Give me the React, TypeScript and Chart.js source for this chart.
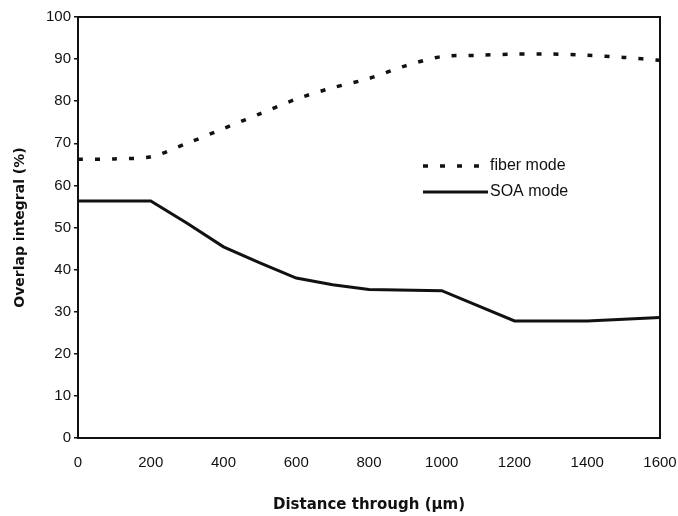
import React, { useEffect, useRef } from "react";
import { Chart, registerables } from "chart.js";

Chart.register(...registerables);

const distances = [0, 100, 200, 300, 400, 500, 600, 700, 800, 900, 1000, 1100, 1200, 1300, 1400, 1500, 1600];
const fiberMode = [66.2, 66.3, 66.8, 70, 73.5, 77, 80.5, 83.2, 85.4, 88.4, 90.6, 90.9, 91.2, 91.2, 90.9, 90.4, 89.7];
const soaDistances = [0, 200, 300, 400, 500, 600, 700, 800, 1000, 1200, 1400, 1600];
const soaMode = [56.3, 56.3, 51, 45.4, 41.6, 38, 36.4, 35.3, 35.0, 27.8, 27.8, 28.6];
const seriesLabels = ["fiber mode", "SOA mode"];
const xTitle = "Distance through (\u00b5m)";
const yTitle = "Overlap integral (%)";

const frameAndLegend = {
  id: "frameAndLegend",
  afterDraw(chart: any) {
    const { ctx, chartArea } = chart;
    ctx.save();
    ctx.strokeStyle = "#111";
    ctx.lineWidth = 2;
    ctx.strokeRect(chartArea.left, chartArea.top, chartArea.right - chartArea.left, chartArea.bottom - chartArea.top);
    const ds = chart.data.datasets;
    const x0 = 423, x1 = 488;
    const rows = [166, 192];
    ds.forEach((d: any, i: number) => {
      const y = rows[i];
      ctx.beginPath();
      ctx.lineWidth = d.borderWidth;
      ctx.setLineDash(d.borderDash || []);
      ctx.moveTo(x0, y);
      ctx.lineTo(x1, y);
      ctx.stroke();
      ctx.setLineDash([]);
      ctx.fillStyle = "#111";
      ctx.font = "16px 'Liberation Sans', Arial, sans-serif";
      ctx.textBaseline = "middle";
      ctx.textAlign = "left";
      ctx.fillText(d.label, x1 + 2, y);
    });
    ctx.restore();
  },
};

export default function App() {
  const ref = useRef<HTMLCanvasElement>(null);
  useEffect(() => {
    if (!ref.current) return;
    const chart = new Chart(ref.current, {
      type: "line",
      data: {
        datasets: [
          {
            label: seriesLabels[0],
            data: distances.map((d, i) => ({ x: d, y: fiberMode[i] })),
            borderColor: "#111",
            borderWidth: 3.5,
            borderDash: [5, 12],
            pointRadius: 0,
            tension: 0.3,
            fill: false,
          },
          {
            label: seriesLabels[1],
            data: soaDistances.map((d, i) => ({ x: d, y: soaMode[i] })),
            borderColor: "#111",
            borderWidth: 3,
            pointRadius: 0,
            tension: 0,
            fill: false,
          },
        ],
      },
      options: {
        responsive: false,
        animation: false,
        layout: { padding: { left: 0, right: 18, top: 17, bottom: 0 } },
        plugins: { legend: { display: false }, tooltip: { enabled: false } },
        scales: {
          x: {
            type: "linear",
            min: 0,
            max: 1600,
            border: { display: false },
            grid: { display: false, drawTicks: false },
            ticks: {
              stepSize: 200,
              padding: 16,
              color: "#111",
              maxRotation: 0,
              font: { family: "'Liberation Sans', Arial, sans-serif", size: 15 },
              callback: (v: any) => String(v),
            },
            title: {
              display: true,
              text: xTitle,
              color: "#111",
              padding: { top: 0, bottom: 2 },
              font: { family: "'DejaVu Sans', sans-serif", size: 15, weight: "bold" },
            },
            afterFit(scale: any) {
              scale.height = 78;
              scale.paddingLeft = 0;
              scale.paddingRight = 0;
            },
          },
          y: {
            min: 0,
            max: 100,
            border: { display: false },
            grid: { drawOnChartArea: false, drawTicks: true, tickLength: 4, color: "#111", lineWidth: 1.5 },
            ticks: {
              stepSize: 10,
              padding: 3,
              color: "#111",
              font: { family: "'Liberation Sans', Arial, sans-serif", size: 15 },
            },
            title: {
              display: true,
              text: yTitle,
              color: "#111",
              padding: { top: 12, bottom: 0 },
              font: { family: "'DejaVu Sans', sans-serif", size: 14, weight: "bold" },
            },
            afterFit(scale: any) {
              scale.width = 78;
              scale.paddingTop = 0;
              scale.paddingBottom = 0;
            },
          },
        },
      },
      plugins: [frameAndLegend],
    });
    return () => chart.destroy();
  }, []);
  return (
    <div style={{ position: "fixed", left: 0, top: 0, width: 678, height: 516, background: "#fff" }}>
      <canvas ref={ref} width={678} height={516} />
    </div>
  );
}
